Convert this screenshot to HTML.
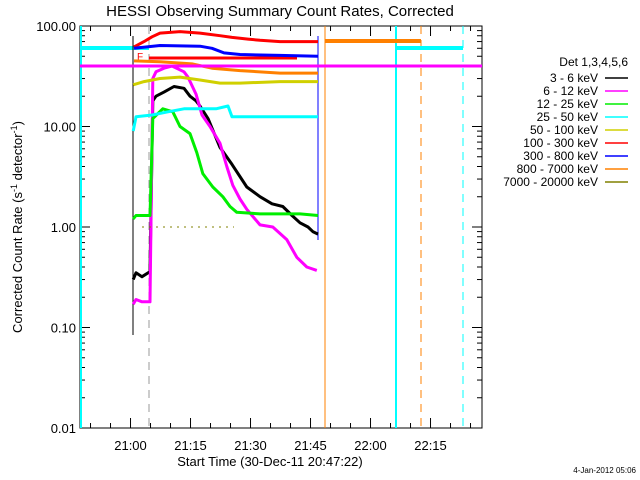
<!DOCTYPE html>
<html><head><meta charset="utf-8"><style>
html,body{margin:0;padding:0;background:#fff;}
svg{display:block;font-family:"Liberation Sans",sans-serif;}
</style></head><body>
<svg id="c" width="640" height="480" viewBox="0 0 640 480">
<rect width="640" height="480" fill="#fff"/>
<text x="280" y="16" font-size="15" text-anchor="middle">HESSI Observing Summary Count Rates, Corrected</text>
<g id="plot"></g>
<text x="270" y="466" font-size="13" text-anchor="middle">Start Time (30-Dec-11 20:47:22)</text>
<text transform="translate(22,227) rotate(-90)" font-size="13" text-anchor="middle">Corrected Count Rate (s<tspan font-size="9" dy="-5">-1</tspan><tspan dy="5"> detector</tspan><tspan font-size="9" dy="-5">-1</tspan><tspan dy="5">)</tspan></text>
<text x="636" y="473" font-size="8" text-anchor="end">4-Jan-2012 05:06</text>
<g id="legend"></g>
</svg>
<script>
// minutes since 20:47:22
const xTickMinutes=[12.63,27.63,42.63,57.63,72.63,87.63];
const xTickLabels=["21:00","21:15","21:30","21:45","22:00","22:15"];
const yTicks=[0.01,0.1,1,10,100];
const yTickLabels=["0.01","0.10","1.00","10.00","100.00"];
const legendLabels=["3 - 6 keV","6 - 12 keV","12 - 25 keV","25 - 50 keV","50 - 100 keV","100 - 300 keV","300 - 800 keV","800 - 7000 keV","7000 - 20000 keV"];
const colors=["#000000","#ff00ff","#00ee00","#00ffff","#d0d000","#ff0000","#0000ff","#ff8000","#808000"];
const tBlack=[13.3,14,15.5,17.5,18.2,19,21,23.5,26,27.5,29,30,32,35,38,41.7,45,48,50.7,53,55,57,58.2,59.5];
const vBlack=[0.3,0.35,0.32,0.36,18,20,22,25,24,20,18,16,12,6.2,4.2,2.5,2,1.7,1.6,1.3,1.1,1.0,0.9,0.85];
const tMag=[13.3,14,15.5,17.5,18.2,19,21,23,26,27,29,30.5,32.5,35,36.7,38.2,40,41.7,45,48.2,51.7,54.2,56.7,59.2];
const vMag=[0.17,0.19,0.18,0.18,30,35,38,40,35,31,21,13,10,6.8,4,2.6,1.9,1.5,1.05,1.0,0.75,0.5,0.4,0.37];
const tGreen=[13.3,14,15.5,17.5,18.2,20.7,23.2,25,27.5,29.2,30.7,33.2,35.7,37.5,39.2,45,50,55,59.5];
const vGreen=[1.2,1.3,1.3,1.3,12,15,14,10,8.5,5.5,3.4,2.5,2,1.6,1.4,1.35,1.35,1.35,1.3];
const tCyan=[13.3,14,18,22,26,30,34,37,38,45,52,59.5];
const vCyan=[9,12.5,13,14,15,15,15,16,12.5,12.5,12.5,12.5];
const tYellow=[13.3,16,20,25,30,35,40,50,59.5];
const vYellow=[26,28,30,31,29,27,27,28,28];
const tRed=[13.5,16,18,20,25,30,35,38,42,45,50,55,59.5];
const vRed=[62,70,78,85,88,85,80,77,74,72,70,70,70];
const tBlue=[13.5,20,30,33,36,40,50,59.5];
const vBlue=[60,64,63,60,54,52,51,50];
const tOrange=[13.5,20,28,33,40,50,59.5];
const vOrange=[45,44,42,38,36,34,34];
const tOlive=[15.5,38.5];
const vOlive=[1.0,1.0];

const X0=80,X1=482,Y0=26,Y1=428,TMAX=100.5;
function xs(t){return X0+(t/TMAX)*(X1-X0);}
function ys(v){return Y1-(Math.log10(v)+2)/4*(Y1-Y0);}
const NS="http://www.w3.org/2000/svg";
const plot=document.getElementById('plot');
function mk(tag,attrs,parent){const e=document.createElementNS(NS,tag);for(const k in attrs)e.setAttribute(k,attrs[k]);(parent||plot).appendChild(e);return e;}

// axes box
let el=mk('rect',{x:X0,y:Y0,width:X1-X0,height:Y1-Y0,fill:'none',stroke:'#000','stroke-width':1});


// x ticks
for(let m=0;m<=TMAX;m+=5){
  const t=m+2.63; if(t>TMAX)break;
  const major=((m)%15===10);
  const x=xs(t);
  mk('line',{x1:x,x2:x,y1:Y1,y2:Y1-(major?10:5),stroke:'#000'});
  mk('line',{x1:x,x2:x,y1:Y0,y2:Y0+(major?10:5),stroke:'#000'});
}
xTickMinutes.forEach((t,i)=>{
  const tx=mk('text',{x:xs(t),y:Y1+22,'font-size':13,'text-anchor':'middle'});
  tx.textContent=xTickLabels[i];
  
  
});
// y ticks
yTicks.forEach((v,i)=>{
  const y=ys(v);
  mk('line',{x1:X0,x2:X0+10,y1:y,y2:y,stroke:'#000'});
  mk('line',{x1:X1,x2:X1-10,y1:y,y2:y,stroke:'#000'});
  const tx=mk('text',{x:X0-4,y:y+5,'font-size':13,'text-anchor':'end'});
  tx.textContent=yTickLabels[i];
  
  
  if(i<yTicks.length-1){for(let k=2;k<10;k++){const yy=ys(v*k);mk('line',{x1:X0,x2:X0+5,y1:yy,y2:yy,stroke:'#000'});mk('line',{x1:X1,x2:X1-5,y1:yy,y2:yy,stroke:'#000'});}}
});
// markers / annotations
function vline(x,c,dash,w){mk('line',{x1:x,x2:x,y1:Y0,y2:Y1,stroke:c,'stroke-width':w||1,'stroke-dasharray':dash||'none'});}
vline(81,'#00ffff',null,2);vline(149,'#00cccc','8,6');vline(149,'#999','8,6');
vline(325,'#ff8000');vline(396,'#00ffff',null,2);vline(421,'#ff8000','8,6');vline(463,'#00ffff','8,6');
mk('line',{x1:80,x2:149,y1:48,y2:48,stroke:'#00ffff','stroke-width':4});
mk('line',{x1:396,x2:463,y1:48,y2:48,stroke:'#00ffff','stroke-width':4});
mk('line',{x1:325,x2:421,y1:41,y2:41,stroke:'#ff8000','stroke-width':4});
mk('line',{x1:149,x2:297,y1:58,y2:58,stroke:'#ff0000','stroke-width':3});
mk('text',{x:137,y:60,'font-size':10,fill:'#ff0000'}).textContent='F';
mk('line',{x1:133,x2:133,y1:36,y2:335,stroke:'#000'});
mk('line',{x1:318,x2:318,y1:36,y2:240,stroke:'#0000ff'});

const series=[[tBlack,vBlack],[tMag,vMag],[tGreen,vGreen],[tCyan,vCyan],[tYellow,vYellow],[tRed,vRed],[tBlue,vBlue],[tOrange,vOrange],[tOlive,vOlive]];
const names=['series-3-6kev','series-6-12kev','series-12-25kev','series-25-50kev','series-50-100kev','series-100-300kev','series-300-800kev','series-800-7000kev','series-7000-20000kev'];
series.forEach((s,i)=>{
  const pts=s[0].map((t,j)=>xs(t).toFixed(1)+','+ys(s[1][j]).toFixed(1)).join(' ');
  const p=mk('polyline',{points:pts,fill:'none',stroke:colors[i],'stroke-width':i===8?1:3,'stroke-dasharray':i===8?'2,5':'none','stroke-linejoin':'round'});
  
  
});
// magenta horizontal
mk('line',{x1:80,x2:482,y1:66,y2:66,stroke:'#ff00ff','stroke-width':3});

// legend
const lg=document.getElementById('legend');
let h=mk('text',{x:628,y:66,'font-size':12,'text-anchor':'end'},lg);h.textContent='Det 1,3,4,5,6';


legendLabels.forEach((l,i)=>{
  const y=78+i*13;
  const t=mk('text',{x:598,y:y+4,'font-size':12,'text-anchor':'end'},lg);t.textContent=l;
  
  
  mk('line',{x1:605,x2:628,y1:y,y2:y,stroke:colors[i],'stroke-width':1.5},lg);
});
</script>
</body></html>
